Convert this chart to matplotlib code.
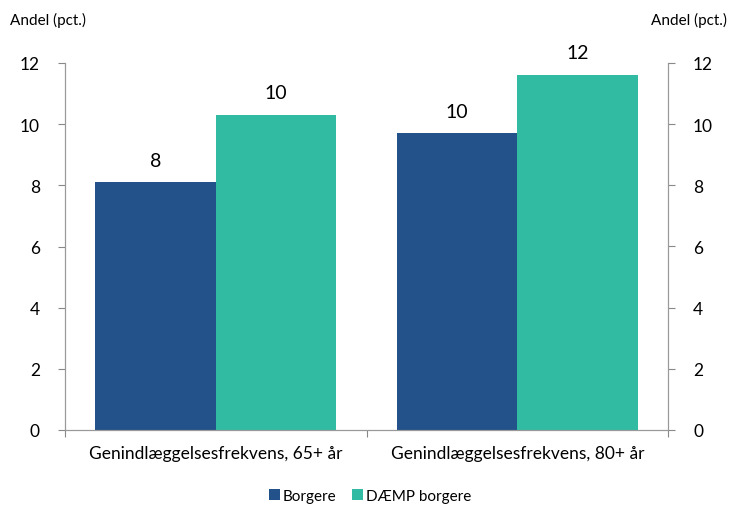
import matplotlib
matplotlib.use("Agg")
import matplotlib.pyplot as plt
import numpy as np

plt.rcParams['font.family'] = ['Lato', 'DejaVu Sans']

categories = ["Genindlæggelsesfrekvens, 65+ år", "Genindlæggelsesfrekvens, 80+ år"]
series_names = ["Borgere", "DÆMP borgere"]
borgere = [8.1, 9.7]
daemp = [10.3, 11.6]
yticks = [0, 2, 4, 6, 8, 10, 12]
colors = ["#23528A", "#31BBA3"]

fig = plt.figure(figsize=(7.37, 5.06), dpi=100)
ax = fig.add_axes([65/737, 75/506, (668-65)/737, (431-64)/506])
x = np.arange(len(categories))
w = 0.4
b1 = ax.bar(x - w/2, borgere, w, color=colors[0], label=series_names[0])
b2 = ax.bar(x + w/2, daemp, w, color=colors[1], label=series_names[1])
for bars, vals in ((b1, borgere), (b2, daemp)):
    for r, v in zip(bars, vals):
        ax.text(r.get_x() + r.get_width()/2, v + 0.45, f"{round(v):d}",
                ha='center', va='bottom', fontsize=14)

ax.set_xlim(-0.5, 1.5)
ax.set_ylim(0, 12)
ax.set_yticks(yticks)
ax.set_yticklabels([str(t) for t in yticks], fontsize=12.5)
ax.set_xticks([-0.5, 0.5, 1.5], minor=False)
ax.set_xticklabels([])
ax.set_xticks(x, minor=True)
ax.set_xticklabels(categories, minor=True, fontsize=12.5)
ax.tick_params(axis='x', which='minor', length=0, pad=11)
ax.tick_params(axis='x', which='major', length=5, color='#888888', direction='out')
ax.tick_params(axis='y', length=5, color='#888888', pad=13)
for s in ['top']:
    ax.spines[s].set_visible(False)
for s in ['left', 'right', 'bottom']:
    ax.spines[s].set_color('#999999')

ax2 = ax.twinx()
ax2.set_ylim(0, 12)
ax2.set_yticks(yticks)
ax2.set_yticklabels([str(t) for t in yticks], fontsize=12.5)
ax2.tick_params(axis='y', length=5, color='#888888', pad=13)
ax2.spines['top'].set_visible(False)
for s in ['left', 'right', 'bottom']:
    ax2.spines[s].set_color('#999999')

fig.text(10/737, 1 - 20/506, "Andel (pct.)", fontsize=11, va='center', ha='left')
fig.text(727/737, 1 - 20/506, "Andel (pct.)", fontsize=11, va='center', ha='right')

fig.legend(handles=[b1, b2], labels=series_names, loc='center', bbox_to_anchor=(370/737, 1 - 497/506),
           ncol=2, frameon=False, fontsize=11, handlelength=0.7, handleheight=0.7,
           handletextpad=0.2, columnspacing=1.0, borderpad=0.1)

fig.savefig("out.png", dpi=100)
